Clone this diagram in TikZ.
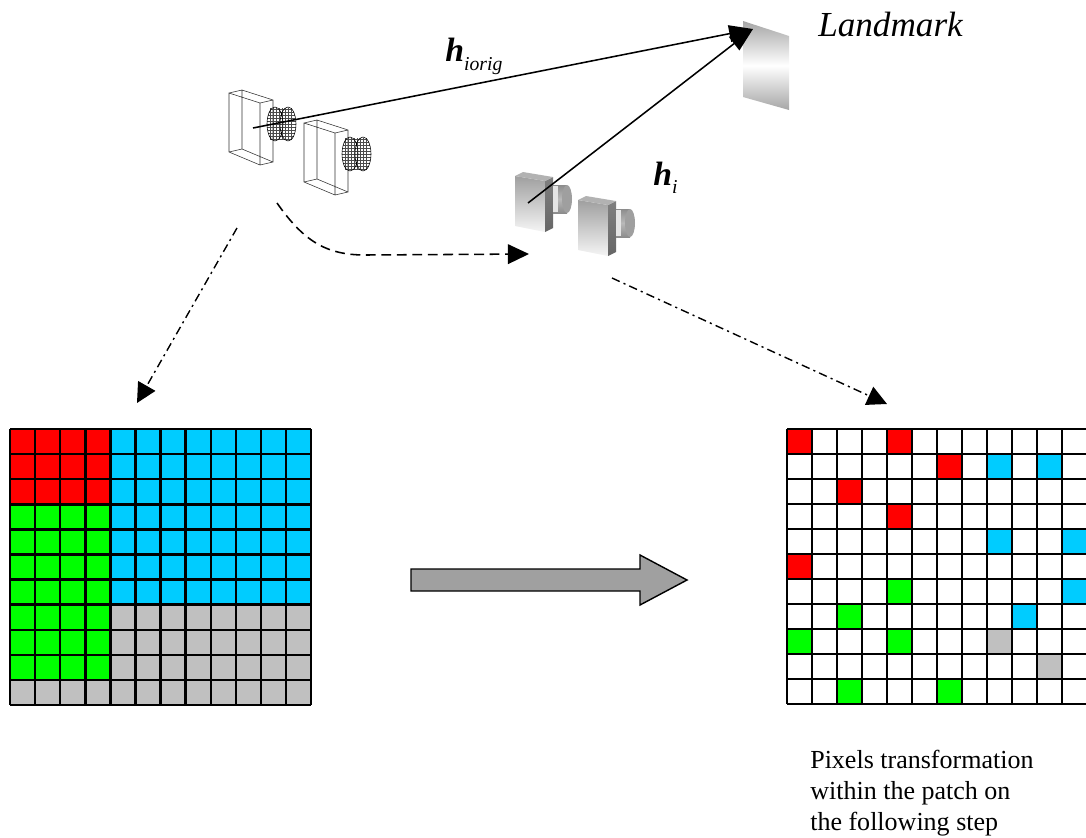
\documentclass[tikz,border=0pt]{standalone}
\usepackage{fontspec}
\setmainfont{Liberation Serif}
\usetikzlibrary{arrows.meta}

\definecolor{pxred}{RGB}{255,0,0}
\definecolor{pxgreen}{RGB}{0,255,0}
\definecolor{pxcyan}{RGB}{0,204,255}
\definecolor{pxgray}{RGB}{192,192,192}
\definecolor{bigarrow}{RGB}{160,160,160}

\begin{document}
\begin{tikzpicture}[x=0.025cm, y=-0.025cm,
    ray/.style={line width=1.1pt, -{Triangle[length=17pt,width=12pt]}},
    motion/.style={line width=1.1pt, dash pattern=on 7pt off 4pt, -{Triangle[length=15pt,width=14pt]}},
    mapping/.style={line width=1pt, dash pattern=on 6pt off 3pt on 1.5pt off 3pt, -{Triangle[length=14pt,width=14pt]}},
    gridline/.style={line width=1.8pt},
    lbl/.style={inner sep=0pt, anchor=base west},
    wirecam/.pic={
        \draw[line width=0.4pt, black!80] (0,0) -- (31,10) -- (31,72) -- (0,59) -- cycle
            (13,-3) -- (44,7) -- (44,69) -- (13,56) -- cycle
            (0,0) -- (13,-3) (31,10) -- (44,7) (31,72) -- (44,69) (0,59) -- (13,56);
        \foreach \dy in {-15,-12,...,15} {
            \pgfmathsetmacro{\w}{8*sqrt(1-(\dy/17)^2)}
            \draw[line width=0.25pt, black!70] ({46-\w},31+\dy) -- ({59+\w},31+\dy);
        }
        \foreach \dx in {41,44,...,62}
            \draw[line width=0.25pt, black!70] (\dx,15) -- (\dx,47);
        \draw[line width=0.4pt] (46,31) ellipse [x radius=8, y radius=17]
            (59,31) ellipse [x radius=8, y radius=17];
    },
    solidcam/.pic={
        \shade[top color=gray!75, bottom color=white!92!gray] (0,0) -- (30,5) -- (30,56) -- (0,50) -- cycle;
        \shade[top color=gray, bottom color=gray!80!black] (30,5) -- (38,1) -- (38,52) -- (30,56) -- cycle;
        \fill[gray!60] (0,0) -- (8,-4) -- (38,1) -- (30,5) -- cycle;
        \shade[top color=gray!90, bottom color=gray!90, middle color=gray!55] (38,9) rectangle (52,37);
        \fill[gray!20] (38,10) rectangle (43,36);
        \fill[gray!75] (52,23) ellipse [x radius=5, y radius=14];
    }
]
\useasboundingbox (0,0) rectangle (1086,837);

% ---- cameras and landmark ----
\pic at (229,93) {wirecam};
\pic at (304,123) {wirecam};
\pic at (515,176) {solidcam};
\pic at (578,200) {solidcam};

\shade[top color=gray!70, bottom color=gray!70, middle color=white]
    (743,21) -- (789,36) -- (789,110) -- (743,97) -- cycle;

\coordinate (orig) at (253,128);
\coordinate (cur) at (528,203);
\coordinate (mark) at (753,29);

\draw[ray] (orig) -- (mark);
\draw[ray] (cur) -- (mark);

\node[lbl, font=\fontsize{24}{24}\selectfont] (horig) at (445,61)
    {\bfseries\itshape h{\mdseries\fontsize{14}{14}\selectfont\raisebox{-6.4pt}{iorig}}};
\node[lbl, font=\fontsize{24}{24}\selectfont] (hi) at (653,185)
    {\bfseries\itshape h{\mdseries\fontsize{14}{14}\selectfont\raisebox{-5.7pt}{i}}};
\node[lbl, font=\fontsize{25}{25}\selectfont\itshape] (lmk) at (818,36) {Landmark};

% ---- dashed arrows ----
\coordinate (m0) at (277,203);
\coordinate (m1) at (529,254);
\draw[motion] (m0) .. controls (303,240) and (325,255) .. (365,255) -- (m1);

\coordinate (a0) at (237,228);
\coordinate (a1) at (137,403);
\coordinate (b0) at (612,278);
\coordinate (b1) at (887,404);
\draw[mapping] (a0) -- (a1);
\draw[mapping] (b0) -- (b1);

% ---- original patch ----
\fill[pxcyan] ({10+4*25.1},429) rectangle ({10+12*25.1},{429+7*25.1});
\fill[pxred] (10,429) rectangle ({10+4*25.1},{429+3*25.1});
\fill[pxgreen] (10,{429+3*25.1}) rectangle ({10+4*25.1},{429+10*25.1});
\fill[pxgray] ({10+4*25.1},{429+7*25.1}) rectangle ({10+12*25.1},{429+11*25.1});
\fill[pxgray] (10,{429+10*25.1}) rectangle ({10+4*25.1},{429+11*25.1});
\foreach \i in {0,...,12}
    \draw[gridline] ({10+25.1*\i},429) -- ++(0,{11*25.1});
\foreach \j in {0,...,11}
    \draw[gridline] (10,{429+25.1*\j}) -- ++({12*25.1},0);

% ---- transformed patch ----
\foreach \c/\r/\col in {0/0/pxred, 4/0/pxred, 6/1/pxred, 8/1/pxcyan, 10/1/pxcyan,
        2/2/pxred, 4/3/pxred, 8/4/pxcyan, 11/4/pxcyan, 0/5/pxred, 4/6/pxgreen,
        11/6/pxcyan, 2/7/pxgreen, 9/7/pxcyan, 0/8/pxgreen, 4/8/pxgreen, 8/8/pxgray,
        10/9/pxgray, 2/10/pxgreen, 6/10/pxgreen}
    \fill[\col] ({787+25*\c},{429+25*\r}) rectangle ++(25,25);
\foreach \i in {0,...,12}
    \draw[gridline] ({787+25*\i},429) -- ++(0,275);
\foreach \j in {0,...,11}
    \draw[gridline] (787,{429+25*\j}) -- ++(300,0);

% ---- block arrow ----
\draw[line width=1pt, fill=bigarrow] (411,569) -- (640,569) -- (640,555) -- (687,580)
    -- (640,605) -- (640,591) -- (411,591) -- cycle;

\node[anchor=north west, inner sep=0pt, align=left,
      font=\fontsize{18.5}{22}\selectfont] (note) at (810,750)
    {Pixels transformation\\within the patch on\\the following step};

\end{tikzpicture}
\end{document}
